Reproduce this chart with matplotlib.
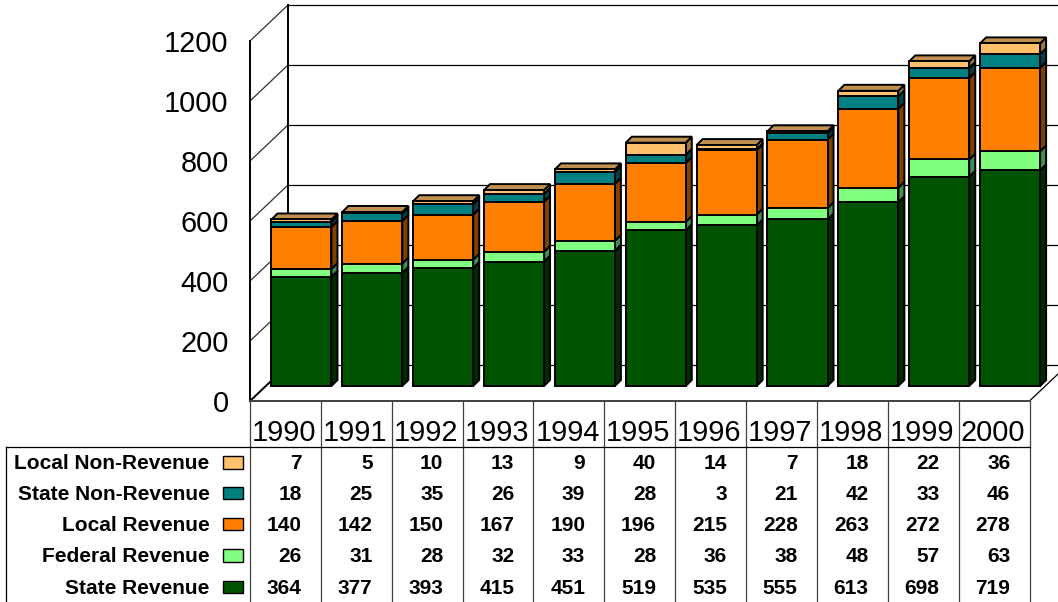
# REQUIRED: matplotlib

import matplotlib.pyplot as plt
from matplotlib.patches import Polygon, Rectangle

plt.rcParams['font.family'] = ['Liberation Sans', 'DejaVu Sans']

Years = ['1990', '1991', '1992', '1993', '1994', '1995', '1996', '1997', '1998', '1999', '2000']
StateRevenue = [364, 377, 393, 415, 451, 519, 535, 555, 613, 698, 719]
FederalRevenue = [26, 31, 28, 32, 33, 28, 36, 38, 48, 57, 63]
LocalRevenue = [140, 142, 150, 167, 190, 196, 215, 228, 263, 272, 278]
StateNonRevenue = [18, 25, 35, 26, 39, 28, 3, 21, 42, 33, 46]
LocalNonRevenue = [7, 5, 10, 13, 9, 40, 14, 7, 18, 22, 36]
YTicks = [0, 200, 400, 600, 800, 1000, 1200]

# bottom of the stack first
Series = [
    ('State Revenue', StateRevenue, '#005400', '#002a00'),
    ('Federal Revenue', FederalRevenue, '#80ff80', '#408f50'),
    ('Local Revenue', LocalRevenue, '#ff8000', '#804000'),
    ('State Non-Revenue', StateNonRevenue, '#008080', '#004048'),
    ('Local Non-Revenue', LocalNonRevenue, '#ffc06c', '#a07840'),
]
TopColor = '#bf9050'

# wall depth and bar depth, in data units (x = categories, y = value)
WALL_X, WALL_Y = 0.536, 120
BASE_X, BASE_Y = 0.226, 50
BAR_X, BAR_Y = 0.085, 20
BAR_W = 0.847

ROW_Y = [-207, -310, -413, -517, -623]  # table rows, top to bottom

fig = plt.figure(figsize=(10.58, 6.02), dpi=100)
ax = fig.add_axes([250 / 1058, 1 - 401 / 602, 779.5 / 1058, 360 / 602])
ax.set_xlim(0, 11)
ax.set_ylim(0, 1200)
ax.axis('off')


def Line(xs, ys, lw=1.0, color='black', z=1):
    ax.plot(xs, ys, color=color, lw=lw, clip_on=False, zorder=z, solid_capstyle='projecting')


def Poly(points, face, z=3):
    ax.add_patch(Polygon(points, closed=True, facecolor=face, edgecolor='black', lw=1.4,
                         clip_on=False, zorder=z, joinstyle='miter'))


# walls and floor
for tick in YTicks:
    Line([WALL_X, 11 + WALL_X], [tick + WALL_Y, tick + WALL_Y], lw=0.9)
    if tick == 0:
        Line([0, WALL_X], [tick, tick + WALL_Y], lw=1.4)
    else:
        Line([0, WALL_X], [tick, tick + WALL_Y], lw=0.9, color='#303030')
Line([0, 0], [0, 1200], lw=1.4)
Line([WALL_X, WALL_X], [WALL_Y, 1200 + WALL_Y], lw=1.4)
Line([11, 11 + WALL_X], [0, WALL_Y], lw=0.9)
Line([0, 11], [0, 0], lw=1.4, color='#404040')

# stacked bars with their side and top faces
for i in range(len(Years)):
    left = i + BASE_X + (1 - BAR_W) / 2
    right = left + BAR_W
    bottom = BASE_Y
    for name, values, color, side in Series:
        top = bottom + values[i]
        Poly([(right, bottom), (right + BAR_X, bottom + BAR_Y),
              (right + BAR_X, top + BAR_Y), (right, top)], side)
        Poly([(left, bottom), (right, bottom), (right, top), (left, top)], color, z=4)
        bottom = top
    Poly([(left, bottom), (right, bottom), (right + BAR_X, bottom + BAR_Y),
          (left + BAR_X, bottom + BAR_Y)], TopColor)

# value axis labels
for tick in YTicks:
    ax.text(-0.3, tick - 9, str(tick), fontsize=20.8, ha='right', va='center', clip_on=False)

# data table under the plot
KEY_L, KEY_R = -0.38, -0.10
TABLE_L = -3.44
for k in range(len(Years) + 1):
    Line([k, k], [0, -675], lw=0.9, color='#404040')
Line([TABLE_L, 11], [-152, -152], lw=0.9)
Line([TABLE_L, TABLE_L], [-152, -675], lw=0.9)

for i, year in enumerate(Years):
    ax.text(i + 0.48, -106, year, fontsize=20.8, ha='center', va='center', clip_on=False)

for row, (name, values, color, side) in zip(ROW_Y, reversed(Series)):
    ax.text(-0.57, row - 2, name, fontsize=15, fontweight='bold', ha='right', va='center', clip_on=False)
    ax.add_patch(Rectangle((KEY_L, row - 18), KEY_R - KEY_L, 42, facecolor=color, edgecolor='black',
                           lw=1.0, clip_on=False))
    for i, value in enumerate(values):
        ax.text(i + 0.73, row - 2, str(value), fontsize=15, fontweight='bold', ha='right', va='center',
                clip_on=False)

fig.savefig('out.png', dpi=100)
